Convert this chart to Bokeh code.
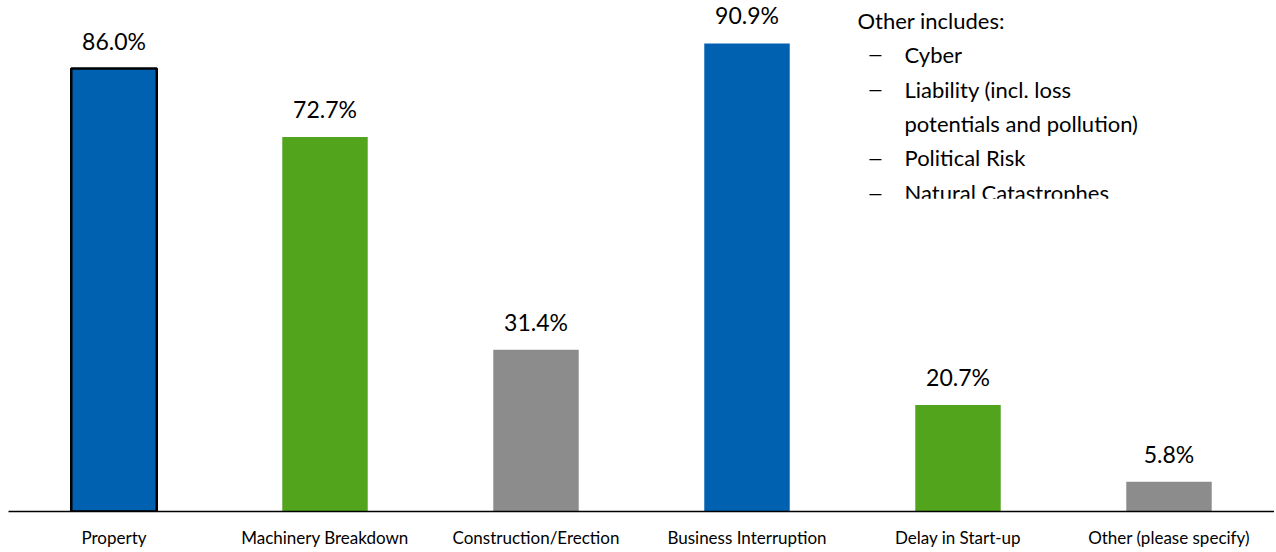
from bokeh.plotting import figure
from bokeh.models import ColumnDataSource, FactorRange, Range1d, BoxAnnotation
from bokeh.core.properties import value
from bokeh.embed import file_html
from bokeh.resources import INLINE

categories = ["Property", "Machinery Breakdown", "Construction/Erection",
              "Business Interruption", "Delay in Start-up", "Other (please specify)"]
values = [86.0, 72.7, 31.4, 90.9, 20.7, 5.8]
labels = ["86.0%", "72.7%", "31.4%", "90.9%", "20.7%", "5.8%"]
colors = ["#0061B0", "#52A41D", "#8C8C8C", "#0061B0", "#52A41D", "#8C8C8C"]
outline = ["black", None, None, None, None, None]

note_title = "Other includes:"
note_items = ["Cyber", "Liability (incl. loss", "potentials and pollution)",
              "Political Risk", "Natural Catastrophes"]
note_dash = [True, True, False, True, True]

FONT = "Lato"
LEFT = 8
FRAME_W = 1266
FRAME_H = 513
BOTTOM = 37
W, H = LEFT + FRAME_W, FRAME_H + BOTTOM
PX_PER_UNIT = 5.17
y_end = FRAME_H / PX_PER_UNIT
CAT_W = FRAME_W / len(categories)

p = figure(width=W, height=H, output_backend="svg", toolbar_location=None,
           x_range=FactorRange(*categories, range_padding=0),
           y_range=Range1d(0, y_end),
           min_border_left=LEFT, min_border_right=0, min_border_top=0,
           min_border_bottom=BOTTOM)
p.outline_line_color = None
p.background_fill_color = "white"
p.border_fill_color = "white"
p.xgrid.visible = False
p.ygrid.visible = False
p.yaxis.visible = False

src = ColumnDataSource(dict(cat=categories, val=values, lab=labels,
                            col=colors, lc=outline))
p.vbar(x="cat", top="val", width=0.405, source=src, fill_color="col",
       line_color="lc", line_width=2.5)
p.text(x="cat", y="val", text="lab", source=src, text_align="center",
       text_baseline="bottom", y_offset=-14, text_font=value(FONT),
       text_font_size="23px", text_color="black")

ax = p.xaxis[0]
ax.axis_line_color = "black"
ax.axis_line_width = 1.5
ax.major_tick_line_color = None
ax.minor_tick_line_color = None
ax.major_tick_out = 0
ax.major_label_standoff = 15
ax.major_label_text_font = FONT
ax.major_label_text_font_size = "17px"
ax.major_label_text_color = "black"

# Note text: pixel positions converted to data coordinates
def py(page_y):
    return (FRAME_H - page_y) / PX_PER_UNIT

def px(page_x):
    return (page_x - LEFT) / CAT_W

line_ys = [54, 89, 123, 158, 193]
p.text(x=[px(857)], y=[py(20)], text=[note_title], text_baseline="middle",
       text_font=value(FONT), text_font_size="22px", text_color="black")
p.text(x=[px(904)] * len(note_items), y=[py(v) for v in line_ys], text=note_items,
       text_baseline="middle", text_font=value(FONT), text_font_size="22px",
       text_color="black")
dash_ys = [py(v) for v, d in zip(line_ys, note_dash) if d]
p.text(x=[px(875)] * len(dash_ys), y=dash_ys, text=["—"] * len(dash_ys),
       text_align="center", text_baseline="middle", text_font=value(FONT),
       text_font_size="18px", text_color="black")

# clip the last note line as in the original
p.add_layout(BoxAnnotation(left=px(850), right=px(1160), top=py(199), bottom=py(215),
                           fill_color="white", fill_alpha=1, line_color=None,
                           level="overlay"))

open("out.html", "w").write(file_html(p, INLINE))
